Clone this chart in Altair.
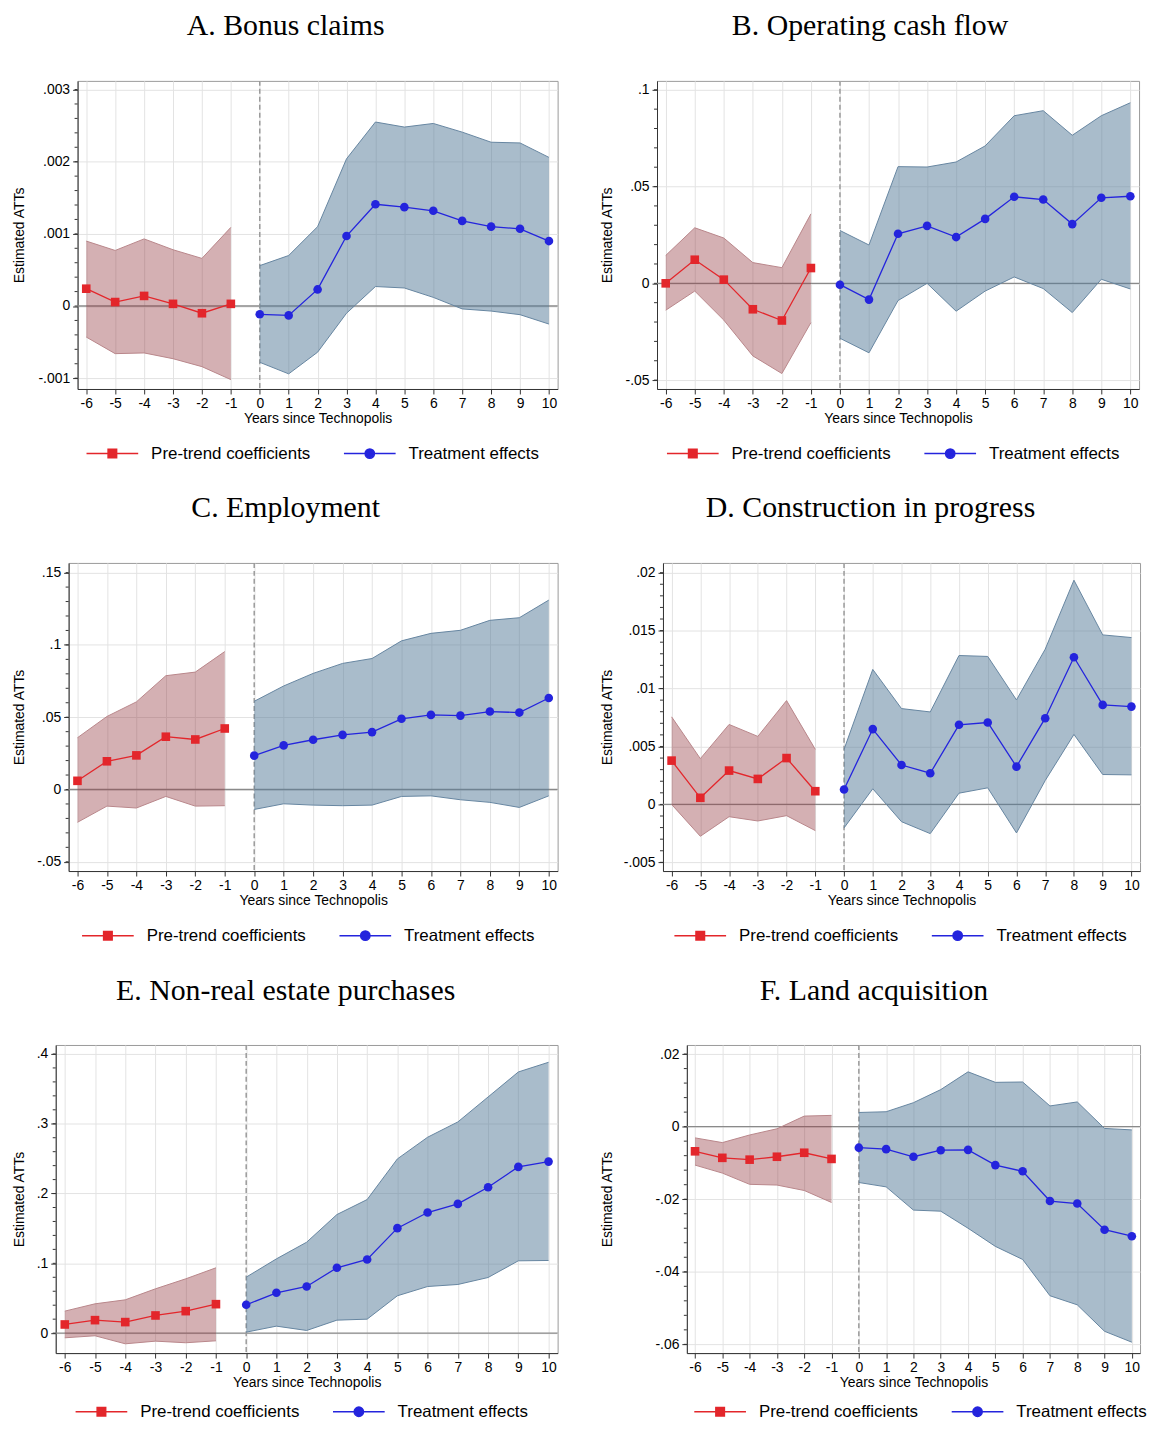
import altair as alt
import pandas as pd

PRE_T = [-6, -5, -4, -3, -2, -1]
POST_T = [0, 1, 2, 3, 4, 5, 6, 7, 8, 9, 10]
X_TICKS = list(range(-6, 11))
SERIES = ["Pre-trend coefficients", "Treatment effects"]

# ---------- Panel A: Bonus claims ----------
a_pre_est = [0.00024, 0.000055, 0.00014, 0.00003, -0.0001, 0.00003]
a_pre_hi = [0.0009, 0.00077, 0.00093, 0.00078, 0.00066, 0.00109]
a_pre_lo = [-0.00043, -0.00066, -0.00065, -0.00073, -0.00084, -0.00102]
a_post_est = [-0.000115, -0.00013, 0.00023, 0.00097, 0.00141, 0.00137, 0.00132, 0.00118, 0.0011, 0.00107, 0.0009]
a_post_hi = [0.00056, 0.0007, 0.0011, 0.00204, 0.00255, 0.00248, 0.00253, 0.00241, 0.00227, 0.00226, 0.00206]
a_post_lo = [-0.00078, -0.00094, -0.00064, -0.0001, 0.00027, 0.00025, 0.00012, -0.00004, -0.00007, -0.00012, -0.00025]
a_ticks = [-0.001, 0, 0.001, 0.002, 0.003]

# ---------- Panel B: Operating cash flow ----------
b_pre_est = [0.0, 0.0122, 0.0019, -0.0134, -0.0192, 0.0079]
b_pre_hi = [0.0144, 0.0287, 0.0234, 0.0107, 0.0081, 0.0359]
b_pre_lo = [-0.0139, -0.004, -0.019, -0.0375, -0.0466, -0.0203]
b_post_est = [-0.0007, -0.0084, 0.0256, 0.0297, 0.0239, 0.0333, 0.0447, 0.0433, 0.0306, 0.0442, 0.045]
b_post_hi = [0.0273, 0.0198, 0.0603, 0.0601, 0.0627, 0.071, 0.0866, 0.0892, 0.0765, 0.0866, 0.0933]
b_post_lo = [-0.0284, -0.0359, -0.0089, 0.0, -0.0144, -0.004, 0.0033, -0.0027, -0.0151, 0.0021, -0.0029]
b_ticks = [-0.05, 0, 0.05, 0.1]

# ---------- Panel C: Employment ----------
c_pre_est = [0.006, 0.0195, 0.0236, 0.0365, 0.0346, 0.0422]
c_pre_hi = [0.0358, 0.0505, 0.0606, 0.0787, 0.0812, 0.0954]
c_pre_lo = [-0.0227, -0.0115, -0.0128, -0.0048, -0.0115, -0.0112]
c_post_est = [0.0234, 0.0305, 0.0344, 0.0378, 0.0397, 0.0489, 0.0516, 0.0511, 0.0539, 0.0532, 0.0633]
c_post_hi = [0.061, 0.0716, 0.0803, 0.0872, 0.0906, 0.1028, 0.108, 0.1101, 0.117, 0.1188, 0.131]
c_post_lo = [-0.0138, -0.0099, -0.0108, -0.0112, -0.0108, -0.0048, -0.0044, -0.0071, -0.0089, -0.0124, -0.0044]
c_ticks = [-0.05, 0, 0.05, 0.1, 0.15]

# ---------- Panel D: Construction in progress ----------
d_pre_est = [0.00378, 0.00057, 0.00292, 0.0022, 0.004, 0.00114]
d_pre_hi = [0.00756, 0.00395, 0.0069, 0.00587, 0.00896, 0.00475]
d_pre_lo = [0.0, -0.00275, -0.00106, -0.00143, -0.00097, -0.00226]
d_post_est = [0.00129, 0.0065, 0.0034, 0.00269, 0.00687, 0.00707, 0.00326, 0.00744, 0.0127, 0.00859, 0.00844]
d_post_hi = [0.00475, 0.01165, 0.00827, 0.00798, 0.01285, 0.01277, 0.00902, 0.0134, 0.01935, 0.01463, 0.0144]
d_post_lo = [-0.00203, 0.00135, -0.00149, -0.00252, 0.00097, 0.00143, -0.00246, 0.00206, 0.00604, 0.00258, 0.00255]
d_ticks = [-0.005, 0, 0.005, 0.01, 0.015, 0.02]

# ---------- Panel E: Non-real estate purchases ----------
e_pre_est = [0.0124, 0.0186, 0.0158, 0.0253, 0.0315, 0.0415]
e_pre_hi = [0.0315, 0.042, 0.0477, 0.0635, 0.0778, 0.0936]
e_pre_lo = [-0.0067, -0.0038, -0.0153, -0.0115, -0.0138, -0.011]
e_post_est = [0.0406, 0.0578, 0.0668, 0.0936, 0.1055, 0.1504, 0.1728, 0.1852, 0.2091, 0.2382, 0.2458]
e_post_hi = [0.0802, 0.1064, 0.1303, 0.1699, 0.1914, 0.2496, 0.2807, 0.3026, 0.3384, 0.3742, 0.3881]
e_post_lo = [0.0014, 0.01, 0.0038, 0.0186, 0.02, 0.0535, 0.0668, 0.0697, 0.0797, 0.1036, 0.1041]
e_ticks = [0, 0.1, 0.2, 0.3, 0.4]

# ---------- Panel F: Land acquisition ----------
f_pre_est = [-0.0068, -0.0086, -0.0091, -0.0083, -0.0072, -0.0089]
f_pre_hi = [-0.0031, -0.0044, -0.0023, -0.0006, 0.0029, 0.0031]
f_pre_lo = [-0.0106, -0.0128, -0.0159, -0.0161, -0.0176, -0.0209]
f_post_est = [-0.0058, -0.0062, -0.0083, -0.0065, -0.0064, -0.0106, -0.0123, -0.0205, -0.0212, -0.0284, -0.0302]
f_post_hi = [0.0039, 0.0041, 0.0066, 0.0102, 0.0151, 0.0122, 0.0123, 0.0057, 0.0068, -0.0005, -0.0009]
f_post_lo = [-0.0154, -0.0166, -0.023, -0.0233, -0.028, -0.033, -0.0366, -0.0466, -0.0491, -0.0564, -0.0594]
f_ticks = [-0.06, -0.04, -0.02, 0, 0.02]

RED = "#e3262b"
BLUE = "#2424dd"
PRE_FILL = "#933a41"
POST_FILL = "#537997"
PRE_EDGE = "#b8868a"
POST_EDGE = "#6685a0"

SQ_PATH = "M-2.6,0L2.6,0M-0.43,-0.43L0.43,-0.43L0.43,0.43L-0.43,0.43Z"
CI_PATH = "M-2.6,0L2.6,0M-0.47,0A0.47,0.47,0,1,1,0.47,0A0.47,0.47,0,1,1,-0.47,0Z"

LABEL_EXPR = "replace(toString(datum.value), '0.', '.')"
SANS = "Liberation Sans"
PLOT_H = 310


def indep(c):
    return c.resolve_scale(fill="independent", stroke="independent", shape="independent").resolve_legend(
        fill="independent", stroke="independent", shape="independent")


def panel(title, pre, post, ydom, ticks, minor_step, width, ext, leg_y, leg_dx):
    pre_df = pd.DataFrame({"t": PRE_T, "est": pre[0], "lo": pre[1], "hi": pre[2], "series": SERIES[0]})
    post_df = pd.DataFrame({"t": POST_T, "est": post[0], "lo": post[1], "hi": post[2], "series": SERIES[1]})

    xscale = alt.Scale(domain=[-6.3, 10.3], nice=False, zero=False)
    yscale = alt.Scale(domain=ydom, nice=False, zero=False)
    xaxis = alt.Axis(values=X_TICKS, title="Years since Technopolis", grid=True,
                     labelExpr="toString(datum.value)",
                     labelFontSize=14, titleFontSize=14, titlePadding=1, labelPadding=3,
                     tickSize=5, labelFlush=False)
    yaxis = alt.Axis(values=ticks, title="Estimated ATTs", grid=True, labelExpr=LABEL_EXPR,
                     labelFontSize=14, titleFontSize=14, titlePadding=6, labelPadding=3,
                     tickSize=5, minExtent=ext, maxExtent=ext)

    def X(f):
        return alt.X(f"{f}:Q", scale=xscale, axis=xaxis)

    def Y(f):
        return alt.Y(f"{f}:Q", scale=yscale, axis=yaxis)

    lo_m, hi_m = min(ticks), max(ticks)
    n = int(round((hi_m - lo_m) / minor_step))
    minor = [round(lo_m + i * minor_step, 6) for i in range(n + 1)]
    minor_df = pd.DataFrame({"est": minor})

    minor_layer = alt.Chart(minor_df).mark_rule(color="#333333", strokeWidth=1).encode(
        y=Y("est"), x=alt.value(-3), x2=alt.value(0))
    zero_layer = alt.Chart(pd.DataFrame({"est": [0]})).mark_rule(
        color="#8a8a8a", strokeWidth=1.4).encode(y=Y("est"))
    vline = alt.Chart(pd.DataFrame({"t": [0]})).mark_rule(
        color="#9a9a9a", strokeWidth=1.5, strokeDash=[5, 3]).encode(x=X("t"))

    pre_band = alt.Chart(pre_df).mark_area(color=PRE_FILL, opacity=0.4).encode(
        x=X("t"), y=Y("lo"), y2="hi:Q")
    post_band = alt.Chart(post_df).mark_area(color=POST_FILL, opacity=0.5).encode(
        x=X("t"), y=Y("lo"), y2="hi:Q")
    pre_lo_l = alt.Chart(pre_df).mark_line(color=PRE_EDGE, strokeWidth=1).encode(x=X("t"), y=Y("lo"))
    pre_hi_l = alt.Chart(pre_df).mark_line(color=PRE_EDGE, strokeWidth=1).encode(x=X("t"), y=Y("hi"))
    post_lo_l = alt.Chart(post_df).mark_line(color=POST_EDGE, strokeWidth=1).encode(x=X("t"), y=Y("lo"))
    post_hi_l = alt.Chart(post_df).mark_line(color=POST_EDGE, strokeWidth=1).encode(x=X("t"), y=Y("hi"))

    pre_line = alt.Chart(pre_df).mark_line(color=RED, strokeWidth=1.3).encode(x=X("t"), y=Y("est"))
    post_line = alt.Chart(post_df).mark_line(color=BLUE, strokeWidth=1.3).encode(x=X("t"), y=Y("est"))
    pre_pts = alt.Chart(pre_df).mark_square(color=RED, size=75, opacity=1).encode(x=X("t"), y=Y("est"))
    post_pts = alt.Chart(post_df).mark_circle(color=BLUE, size=75, opacity=1).encode(x=X("t"), y=Y("est"))

    leg = alt.Legend(orient="none", legendX=width / 2 - 217.5 + leg_dx, legendY=leg_y, direction="horizontal",
                     title=None, labelFontSize=17, labelFont=SANS, labelColor="black", labelLimit=0,
                     symbolSize=400, symbolStrokeWidth=1.5, labelOffset=28, columnPadding=30,
                     symbolOpacity=1)
    ghost_df = pd.DataFrame({"t": [0, 0], "est": [1e6, 1e6], "series": SERIES})
    ghost = alt.Chart(ghost_df).mark_point(filled=True, opacity=1, clip=True, size=400).encode(
        x=X("t"), y=Y("est"),
        fill=alt.Fill("series:N", scale=alt.Scale(domain=SERIES, range=[RED, BLUE]), legend=leg),
        stroke=alt.Stroke("series:N", scale=alt.Scale(domain=SERIES, range=[RED, BLUE]), legend=leg),
        shape=alt.Shape("series:N", scale=alt.Scale(domain=SERIES, range=[SQ_PATH, CI_PATH]), legend=leg))

    return alt.layer(minor_layer, zero_layer, vline, pre_band, post_band,
                     pre_lo_l, pre_hi_l, post_lo_l, post_hi_l,
                     pre_line, post_line, pre_pts, post_pts, ghost).properties(
        width=width, height=PLOT_H,
        title=alt.TitleParams(title, font="Liberation Serif", fontSize=30, fontWeight="normal",
                              anchor="middle", frame="bounds", offset=39, color="black"))


pA = panel("A. Bonus claims", (a_pre_est, a_pre_lo, a_pre_hi), (a_post_est, a_post_lo, a_post_hi),
           [-0.00115, 0.00312], a_ticks, 0.0002, 483, 45, 364, 0)
pB = panel("B. Operating cash flow", (b_pre_est, b_pre_lo, b_pre_hi), (b_post_est, b_post_lo, b_post_hi),
           [-0.0546, 0.1046], b_ticks, 0.01, 485, 37, 364, 0)
pC = panel("C. Employment", (c_pre_est, c_pre_lo, c_pre_hi), (c_post_est, c_post_lo, c_post_hi),
           [-0.0564, 0.1567], c_ticks, 0.01, 492, 36, 364, 0)
pD = panel("D. Construction in progress", (d_pre_est, d_pre_lo, d_pre_hi), (d_post_est, d_post_lo, d_post_hi),
           [-0.00575, 0.02084], d_ticks, 0.001, 480, 43, 364, 4)
pE = panel("E. Non-real estate purchases", (e_pre_est, e_pre_lo, e_pre_hi), (e_post_est, e_post_lo, e_post_hi),
           [-0.0286, 0.4129], e_ticks, 0.02, 505, 23, 358, 0)
pF = panel("F. Land acquisition", (f_pre_est, f_pre_lo, f_pre_hi), (f_post_est, f_post_lo, f_post_hi),
           [-0.0624, 0.0225], f_ticks, 0.004, 456, 67, 358, 12)


def spacer():
    return alt.Chart(pd.DataFrame({"v": [0]})).mark_point(opacity=0).properties(
        width=1, height=1, view=alt.ViewBackground(stroke=None))


def row(left, right):
    inner = indep(alt.hconcat(left, right, spacing=40))
    return indep(alt.hconcat(spacer(), inner, spacing=0))


chart = indep(alt.vconcat(row(pA, pB), row(pC, pD), row(pE, pF), spacing=30)).properties(
    padding={"left": -3, "top": -2, "right": 0, "bottom": -3}
).configure_view(
    stroke="#9a9a9a", strokeWidth=1
).configure_axis(
    labelFont=SANS, titleFont=SANS, labelColor="black", titleColor="black",
    titleFontWeight="normal", domainColor="#333333", tickColor="#333333",
    gridColor="#e3e3e3", gridWidth=1
)

chart.save("out.html", embed_options={"renderer": "svg", "actions": False})
